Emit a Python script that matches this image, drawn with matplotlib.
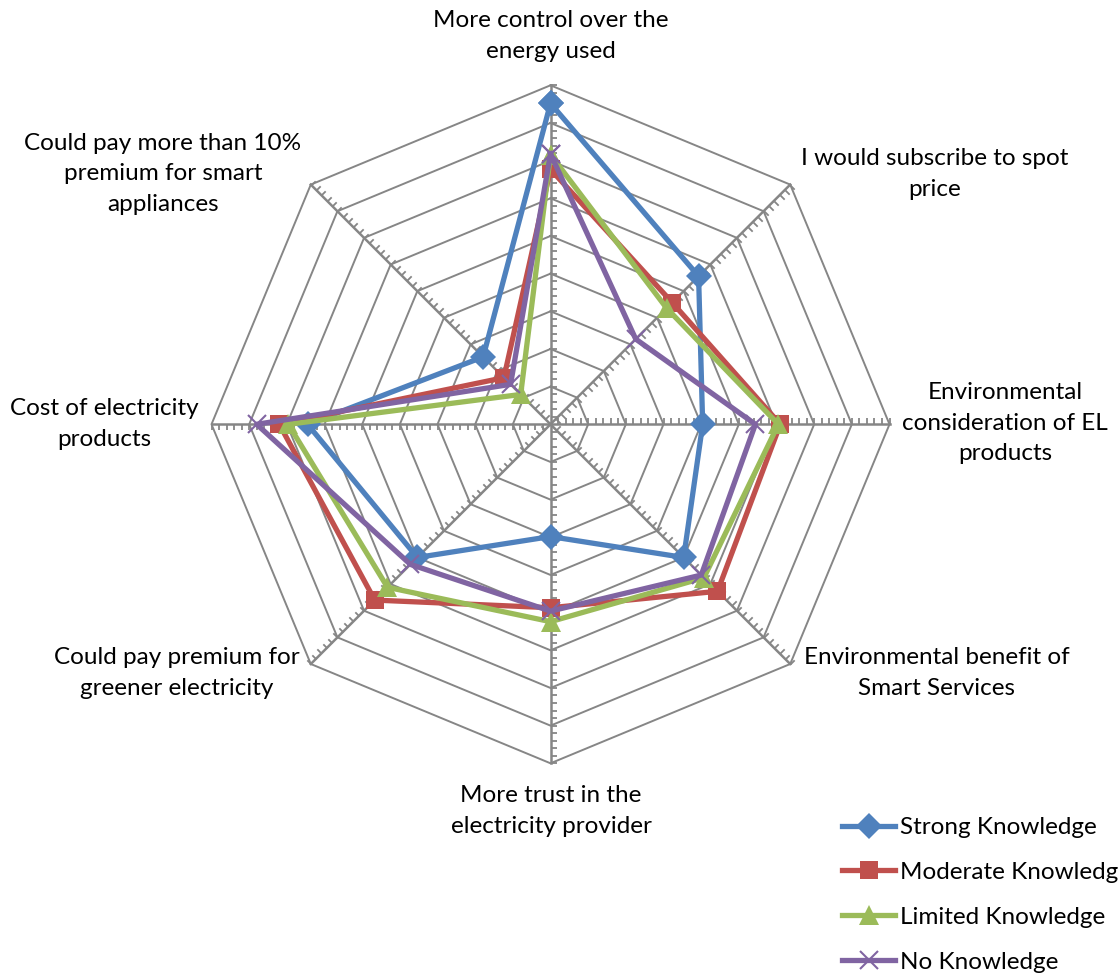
import numpy as np
import matplotlib
matplotlib.use("Agg")
import matplotlib.pyplot as plt
from matplotlib.path import Path
from matplotlib.markers import MarkerStyle
from matplotlib.transforms import Affine2D
from matplotlib.lines import Line2D

categories = [
    "More control over the\nenergy used",
    "I would subscribe to spot\nprice",
    "Environmental\nconsideration of EL\nproducts",
    "Environmental benefit of\nSmart Services",
    "More trust in the\nelectricity provider",
    "Could pay premium for\ngreener electricity",
    "Cost of electricity\nproducts",
    "Could pay more than 10%\npremium for smart\nappliances",
]
series_names = ["Strong Knowledge", "Moderate Knowledge", "Limited Knowledge", "No Knowledge"]
strong = [85.2, 55.6, 40.4, 50.0, 29.8, 50.0, 64.5, 25.3]
moderate = [67.7, 45.7, 61.0, 62.7, 48.7, 66.0, 72.0, 17.5]
limited = [71.6, 43.6, 60.5, 57.6, 52.4, 61.2, 69.6, 11.2]
no_knowledge = [71.8, 32.0, 54.4, 56.6, 49.6, 52.6, 78.0, 15.0]
r_max = 90
major_step = 10
minor_step = 2

colors = ["#4F81BD", "#C0504D", "#9BBB59", "#8064A2"]
markers = ["D", "s", "^", "x"]
msizes = [13, 13, 14, 13]
FONT = ["Lato", "DejaVu Sans"]
FS = 17.5

W, H = 1119, 974
fig = plt.figure(figsize=(W / 100, H / 100), dpi=100)
cx, cy, rad = 550.5, 424.3, 339.0
ax = fig.add_axes([(cx - rad) / W, (H - cy - rad) / H, 2 * rad / W, 2 * rad / H],
                  projection="polar")
ax.set_theta_offset(np.pi / 2)
ax.set_theta_direction(-1)
ax.set_ylim(0, r_max)
ax.grid(False)
ax.set_xticks([])
ax.set_yticks([])
ax.spines["polar"].set_visible(False)
ax.patch.set_alpha(0)

n = len(categories)
theta = np.arange(n) * 2 * np.pi / n
theta_c = np.append(theta, theta[0])
grid_col = "#868686"

# polygon rings
for r in np.arange(major_step, r_max + 0.1, major_step):
    ax.plot(theta_c, [r] * (n + 1), color=grid_col, lw=1.4, zorder=1, clip_on=False)
# spokes
for t in theta:
    ax.plot([t, t], [0, r_max], color=grid_col, lw=1.8, zorder=1, clip_on=False)
# tick marks along spokes
sides = [-1, -1, 1, 1, 1, -1, 1, -1]
minor_vals = np.arange(minor_step, r_max + 0.1, minor_step)
tick_path = Path([(0, 0), (1, 0)], [Path.MOVETO, Path.LINETO])
for i, t in enumerate(theta):
    ang = 90 - 45 * i + sides[i] * 90
    ms = MarkerStyle(tick_path, transform=Affine2D().rotate_deg(ang))
    ax.plot([t] * len(minor_vals), minor_vals, linestyle="none", marker=ms,
            markersize=8.5, markeredgewidth=1.3, markeredgecolor=grid_col,
            zorder=1, clip_on=False)

data = [strong, moderate, limited, no_knowledge]
for vals, c, m, s, name in zip(data, colors, markers, msizes, series_names):
    v = np.append(vals, vals[0])
    kw = dict(markeredgewidth=1.5) if m == "x" else dict(markeredgewidth=0)
    ax.plot(theta_c, v, color=c, lw=3.8, marker=m, markersize=s,
            markerfacecolor=c, markeredgecolor=c, zorder=3, clip_on=False,
            label=name, **kw)

# category labels
label_pos = [(551, 36), (935, 174), (1005, 423), (937, 673),
             (551, 811), (177, 673), (104, 424), (163, 174)]
for txt, (x, y) in zip(categories, label_pos):
    fig.text(x / W, 1 - y / H, txt, ha="center", va="center", fontsize=FS,
             family=FONT, linespacing=1.58, color="#000000")

# legend
handles = []
for c, m, s, name in zip(colors, markers, msizes, series_names):
    kw = dict(markeredgewidth=1.5) if m == "x" else dict(markeredgewidth=0)
    handles.append(Line2D([], [], color=c, lw=3.8, marker=m, markersize=s,
                          markerfacecolor=c, markeredgecolor=c, **kw))
fig.legend(handles, series_names, loc="upper left",
           bbox_to_anchor=(842 / W, 1 - 817 / H), frameon=False,
           prop={"family": FONT, "size": FS}, handlelength=2.2,
           handletextpad=0.2, labelspacing=0.98, borderaxespad=0, borderpad=0)

fig.savefig("out.png", dpi=100, facecolor="white")
